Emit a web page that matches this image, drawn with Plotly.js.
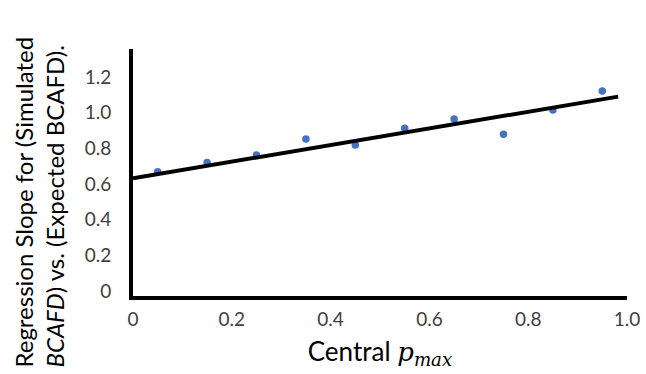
<!DOCTYPE html>
<html>
<head>
<meta charset="utf-8">
<script src="https://cdn.plot.ly/plotly-3.0.1.min.js"></script>
<style>html,body{margin:0;padding:0;background:#fff;}#chart{width:646px;height:374px;}</style>
</head>
<body>
<div id="chart"></div>
<script>
// Data
const centralPmax = [0.05, 0.15, 0.25, 0.35, 0.45, 0.55, 0.65, 0.75, 0.85, 0.95];
const regressionSlope = [0.697, 0.748, 0.791, 0.881, 0.847, 0.941, 0.993, 0.907, 1.043, 1.150];
const trendX = [0, 0.982];
const trendY = [0.660, 1.118];
const xTickVals = [0, 0.2, 0.4, 0.6, 0.8, 1.0];
const xTickText = ['0', '0.2', '0.4', '0.6', '0.8', '1.0'];
const yTickVals = [0, 0.2, 0.4, 0.6, 0.8, 1.0, 1.2];
const yTickText = ['0', '0.2', '0.4', '0.6', '0.8', '1.0', '1.2'];

const FONT = 'Lato, "Open Sans", sans-serif';
const traces = [
  {
    x: centralPmax, y: regressionSlope, type: 'scatter', mode: 'markers',
    marker: {color: '#4472C4', size: 7.5},
    hoverinfo: 'x+y', showlegend: false
  },
  {
    x: trendX, y: trendY, type: 'scatter', mode: 'lines',
    line: {color: '#000000', width: 4},
    hoverinfo: 'skip', showlegend: false
  }
];

const layout = {
  width: 646, height: 374,
  margin: {l: 133, r: 19, t: 49, b: 78, pad: 0},
  paper_bgcolor: '#ffffff', plot_bgcolor: '#ffffff',
  font: {family: FONT, color: '#404040', size: 19},
  xaxis: {
    range: [0, 1], showgrid: false, zeroline: false,
    showline: true, linecolor: '#000000', linewidth: 4,
    tickmode: 'array', tickvals: xTickVals, ticktext: xTickText,
    ticks: '', tickfont: {family: FONT, size: 19, color: '#404040'},
    ticklabelstandoff: 3,
    title: {
      text: 'Central <span style="font-family:\'DejaVu Serif\',serif;font-style:italic">p</span><sub><span style="font-family:\'DejaVu Serif\',serif;font-style:italic">max</span></sub>',
      font: {family: FONT, size: 26, color: '#000000'}, standoff: 15
    }
  },
  yaxis: {
    range: [0, 1.385], showgrid: false, zeroline: false,
    showline: true, linecolor: '#000000', linewidth: 4,
    tickmode: 'array', tickvals: yTickVals, ticktext: yTickText,
    ticks: '', tickfont: {family: FONT, size: 19, color: '#404040'},
    ticklabelstandoff: 14, ticklabelshift: -5
  },
  annotations: [
    {
      xref: 'paper', yref: 'paper', x: -0.257, y: -0.2996,
      xanchor: 'left', yanchor: 'bottom', textangle: -90, align: 'left',
      showarrow: false,
      text: 'Regression Slope for (Simulated<br><i>BCAFD</i>) vs. (Expected BCAFD).',
      font: {family: FONT, size: 24, color: '#000000'}
    }
  ]
};

Plotly.newPlot('chart', traces, layout, {displayModeBar: false, staticPlot: true});
</script>
</body>
</html>
